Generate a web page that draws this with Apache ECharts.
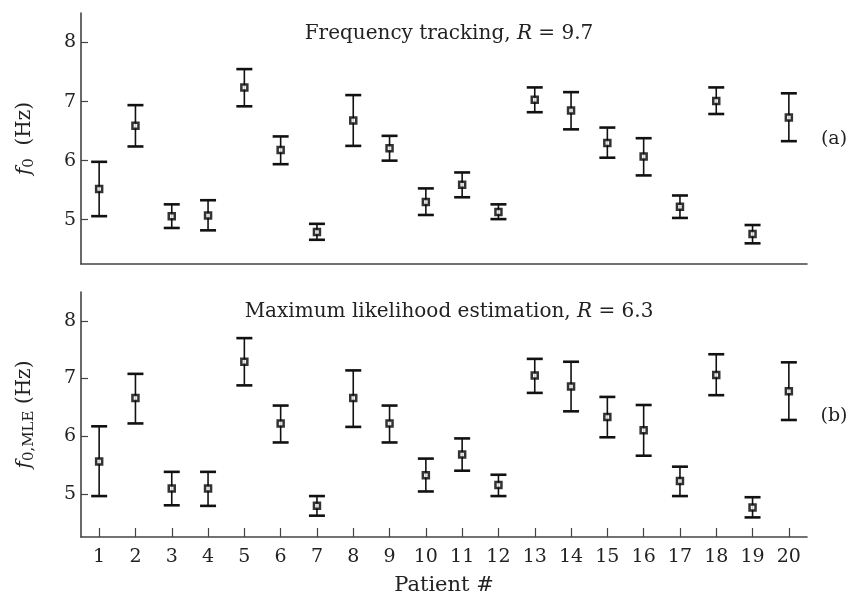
<!DOCTYPE html>
<html>
<head>
<meta charset="utf-8">
<script src="https://cdn.jsdelivr.net/npm/echarts@6/dist/echarts.min.js"></script>
<style>
  html, body { margin: 0; padding: 0; background: #fff; }
  #chart { width: 850px; height: 597px; }
</style>
</head>
<body>
<div id="chart"></div>
<script>
// Patient numbers on the shared x axis
const patients = ['1','2','3','4','5','6','7','8','9','10','11','12','13','14','15','16','17','18','19','20'];

// Frequency tracking estimates (Hz): mean with lower / upper bounds
const ftMean = [5.52, 6.59, 5.06, 5.07, 7.24, 6.18, 4.79, 6.68, 6.21, 5.30, 5.59, 5.13, 7.03, 6.85, 6.30, 6.07, 5.22, 7.01, 4.76, 6.73];
const ftLow  = [5.06, 6.24, 4.86, 4.82, 6.92, 5.94, 4.66, 6.25, 6.00, 5.08, 5.38, 5.01, 6.82, 6.53, 6.05, 5.75, 5.03, 6.79, 4.60, 6.33];
const ftHigh = [5.98, 6.94, 5.26, 5.33, 7.55, 6.41, 4.93, 7.11, 6.42, 5.53, 5.80, 5.26, 7.24, 7.16, 6.56, 6.38, 5.41, 7.24, 4.91, 7.14];

// Maximum likelihood estimates (Hz): mean with lower / upper bounds
const mleMean = [5.56, 6.66, 5.09, 5.09, 7.29, 6.22, 4.79, 6.66, 6.22, 5.32, 5.68, 5.15, 7.05, 6.86, 6.33, 6.10, 5.22, 7.06, 4.76, 6.78];
const mleLow  = [4.96, 6.22, 4.80, 4.79, 6.88, 5.89, 4.62, 6.16, 5.89, 5.04, 5.40, 4.96, 6.75, 6.43, 5.98, 5.66, 4.96, 6.71, 4.59, 6.28];
const mleHigh = [6.17, 7.08, 5.38, 5.38, 7.70, 6.53, 4.96, 7.14, 6.53, 5.61, 5.96, 5.33, 7.34, 7.29, 6.68, 6.54, 5.47, 7.42, 4.94, 7.28];

// Y tick values and panel titles
const yTicks = [5, 6, 7, 8];
const titleTop = '{n|Frequency tracking, }{i|R}{n| = 9.7}';
const titleBottom = '{n|Maximum likelihood estimation, }{i|R}{n| = 6.3}';

const FONT = 'DejaVu Serif';
const AXIS_COLOR = '#444';
const INK = '#111';
const TEXT = '#222';

const chart = echarts.init(document.getElementById('chart'));

function rangeData(low, high) {
  return low.map((v, i) => [i, v, high[i]]);
}

function renderErrorBar(params, api) {
  const idx = api.value(0);
  const pLo = api.coord([idx, api.value(1)]);
  const pHi = api.coord([idx, api.value(2)]);
  const hw = 8;
  return {
    type: 'group',
    children: [
      { type: 'line', shape: { x1: pLo[0], y1: pLo[1], x2: pHi[0], y2: pHi[1] },
        style: { stroke: INK, lineWidth: 1.6 } },
      { type: 'line', shape: { x1: pLo[0] - hw, y1: pLo[1], x2: pLo[0] + hw, y2: pLo[1] },
        style: { stroke: INK, lineWidth: 2.6 } },
      { type: 'line', shape: { x1: pHi[0] - hw, y1: pHi[1], x2: pHi[0] + hw, y2: pHi[1] },
        style: { stroke: INK, lineWidth: 2.6 } }
    ]
  };
}

const richTitle = {
  n: { fontFamily: FONT, fontSize: 20, fontWeight: 'normal', color: TEXT },
  i: { fontFamily: FONT, fontSize: 20, fontWeight: 'normal', fontStyle: 'italic', color: TEXT }
};

const richName = {
  n: { fontFamily: FONT, fontSize: 20, fontWeight: 'normal', color: TEXT },
  i: { fontFamily: FONT, fontSize: 20, fontWeight: 'normal', fontStyle: 'italic', color: TEXT },
  s: { fontFamily: FONT, fontSize: 15, fontWeight: 'normal', color: TEXT, verticalAlign: 'bottom', padding: [9, 0, 0, 0] }
};

function xAxisFor(gridIndex, showLabels) {
  return {
    type: 'category',
    gridIndex: gridIndex,
    data: patients,
    boundaryGap: true,
    axisLine: { show: true, lineStyle: { color: AXIS_COLOR, width: 1.6 } },
    axisTick: { show: showLabels, inside: true, length: 9, alignWithLabel: true,
                lineStyle: { color: AXIS_COLOR, width: 1.2 } },
    axisLabel: { show: showLabels, margin: 11, fontFamily: FONT, fontSize: 19, color: TEXT },
    splitLine: { show: false },
    name: showLabels ? 'Patient #' : '',
    nameLocation: 'middle',
    nameGap: 38,
    nameTextStyle: { fontFamily: FONT, fontSize: 21, color: TEXT }
  };
}

function yAxisFor(gridIndex, name) {
  return {
    type: 'value',
    gridIndex: gridIndex,
    min: 4.25,
    max: 8.5,
    axisLine: { show: true, lineStyle: { color: AXIS_COLOR, width: 1.6 } },
    axisTick: { show: true, inside: true, length: 7, customValues: yTicks,
                lineStyle: { color: AXIS_COLOR, width: 1.2 } },
    axisLabel: { show: true, margin: 5, customValues: yTicks, fontFamily: FONT, fontSize: 19, color: TEXT },
    splitLine: { show: false },
    name: name,
    nameLocation: 'middle',
    nameGap: 44,
    nameRotate: 90,
    nameTextStyle: { rich: richName }
  };
}

const option = {
  backgroundColor: '#fff',
  animation: false,
  title: [
    { text: titleTop, left: 444, top: 19, textAlign: 'center',
      textStyle: { fontWeight: 'normal', rich: richTitle } },
    { text: titleBottom, left: 444, top: 297, textAlign: 'center',
      textStyle: { fontWeight: 'normal', rich: richTitle } }
  ],
  graphic: [
    { type: 'text', x: 834, y: 139, style: { text: '(a)', fontFamily: FONT, fontSize: 19, fill: TEXT,
      align: 'center', verticalAlign: 'middle' } },
    { type: 'text', x: 834, y: 416, style: { text: '(b)', fontFamily: FONT, fontSize: 19, fill: TEXT,
      align: 'center', verticalAlign: 'middle' } }
  ],
  grid: [
    { left: 81, top: 13, width: 726, height: 251 },
    { left: 81, top: 292, width: 726, height: 251 }
  ],
  xAxis: [xAxisFor(0, false), xAxisFor(1, true)],
  yAxis: [
    yAxisFor(0, '{i|f}{s|0}{n|  (Hz)}'),
    yAxisFor(1, '{i|f}{s|0,MLE}{n| (Hz)}')
  ],
  series: [
    { type: 'custom', xAxisIndex: 0, yAxisIndex: 0, renderItem: renderErrorBar,
      encode: { x: 0, y: [1, 2] }, data: rangeData(ftLow, ftHigh), z: 2 },
    { type: 'scatter', xAxisIndex: 0, yAxisIndex: 0, data: ftMean.map((v, i) => [i, v]),
      symbol: 'rect', symbolSize: 6, z: 3,
      itemStyle: { color: '#fff', borderColor: '#000', borderWidth: 2.5 } },
    { type: 'custom', xAxisIndex: 1, yAxisIndex: 1, renderItem: renderErrorBar,
      encode: { x: 0, y: [1, 2] }, data: rangeData(mleLow, mleHigh), z: 2 },
    { type: 'scatter', xAxisIndex: 1, yAxisIndex: 1, data: mleMean.map((v, i) => [i, v]),
      symbol: 'rect', symbolSize: 6, z: 3,
      itemStyle: { color: '#fff', borderColor: '#000', borderWidth: 2.5 } }
  ]
};

chart.setOption(option);
</script>
</body>
</html>
